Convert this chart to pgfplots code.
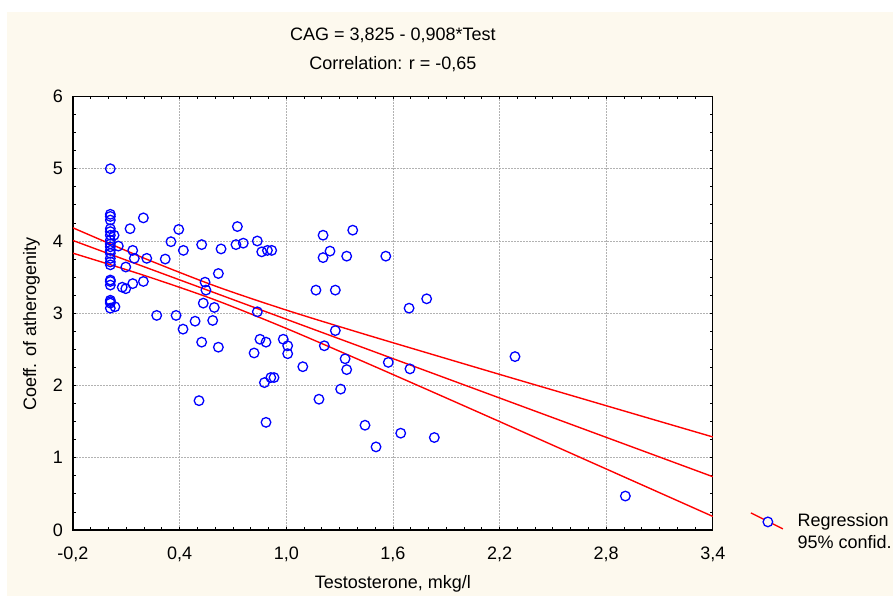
\documentclass[border=0pt]{standalone}
\usepackage{fontspec}
\setmainfont{Liberation Sans}
\usepackage{pgfplots}
\usepackage{pgfplotstable}
\pgfplotsset{compat=1.18}
\definecolor{cream}{RGB}{253,249,238}
\pgfplotstableread{
x y
0.01 5.00
0.01 4.37
0.01 4.34
0.01 4.29
0.01 4.17
0.01 4.13
0.01 4.08
0.01 4.01
0.01 3.96
0.01 3.92
0.01 3.87
0.01 3.83
0.01 3.76
0.01 3.71
0.01 3.67
0.01 3.46
0.01 3.44
0.01 3.39
0.01 3.18
0.01 3.16
0.01 3.14
0.01 3.07
0.031 4.08
0.036 3.09
0.055 3.93
0.077 3.36
0.097 3.34
0.097 3.64
0.121 4.17
0.136 3.87
0.145 3.76
0.136 3.41
0.196 4.32
0.196 3.44
0.215 3.76
0.271 2.97
0.319 3.75
0.351 3.99
0.380 2.97
0.395 4.16
0.419 2.78
0.421 3.87
0.487 2.89
0.509 1.79
0.524 3.95
0.524 2.60
0.533 3.14
0.543 3.43
0.548 3.32
0.586 2.90
0.595 3.08
0.618 3.55
0.618 2.53
0.633 3.89
0.717 3.95
0.725 4.20
0.758 3.97
0.819 2.45
0.837 4.00
0.837 3.02
0.852 2.64
0.862 3.85
0.877 2.04
0.886 2.60
0.886 1.49
0.894 3.87
0.913 2.11
0.918 3.87
0.931 2.11
0.983 2.64
1.008 2.55
1.008 2.44
1.093 2.26
1.167 3.32
1.184 1.81
1.207 4.08
1.207 3.77
1.214 2.55
1.246 3.86
1.276 3.32
1.276 2.76
1.306 1.95
1.331 2.37
1.340 3.79
1.340 2.22
1.374 4.15
1.443 1.45
1.505 1.15
1.560 3.79
1.574 2.32
1.644 1.34
1.691 3.07
1.696 2.23
1.790 3.20
1.833 1.28
2.287 2.40
2.908 0.47
}\pts
\pgfplotstableread{
x fit up lo
-0.2 4.0066 4.182 3.831
0.2 3.6434 3.762 3.524
0.6 3.2802 3.377 3.184
1.0 2.9170 3.044 2.790
1.4 2.5538 2.740 2.367
1.8 2.1906 2.446 1.936
2.2 1.8274 2.154 1.501
2.6 1.4642 1.865 1.064
3.0 1.1010 1.576 0.626
3.4 0.7378 1.288 0.188
}\band
\begin{document}
\fontsize{18}{21.6}\selectfont
\begin{tikzpicture}[x=1pt,y=1pt]
\fill[white] (0,0) rectangle (893,596);
\fill[cream] (7,0) rectangle (893,584);
\begin{axis}[name=ax,
  at={(73pt,66pt)}, anchor=south west,
  width=639.8pt, height=433.5pt, scale only axis,
  xmin=-0.2, xmax=3.4, ymin=0, ymax=6,
  xtick={-0.2,0.4,1.0,1.6,2.2,2.8,3.4},
  ytick={0,1,2,3,4,5,6},
  minor x tick num=5, minor y tick num=3,
  tick align=inside,
  major tick length=3pt, minor tick length=3pt,
  tick style={black, line width=0.8pt},
  axis line style={line width=1.2pt},
  axis background/.style={fill=white},
  grid=major,
  major grid style={gray!60, line width=0.7pt, dash pattern=on 1.5pt off 1.5pt},
  /pgf/number format/assume math mode=true,
  xticklabel style={/pgf/number format/.cd, fixed, fixed zerofill, precision=1, use comma, /tikz/.cd, anchor=base, yshift=-30pt, inner sep=0pt},
  yticklabel style={anchor=east, inner sep=0pt, xshift=-10pt},
  xlabel={Testosterone, mkg/l},
  xlabel style={at={(axis description cs:0.5,0)}, anchor=base, yshift=-58pt, inner sep=0pt},
  ylabel={Coeff. of atherogenity},
  ylabel style={at={(axis description cs:0,0.475)}, anchor=base, yshift=37pt, inner sep=0pt},
  title={CAG = 3,825 - 0,908*Test},
  title style={at={(axis description cs:0.5,1)}, anchor=base, yshift=50pt, inner sep=0pt},
  legend style={at={(axis description cs:1.0581,0.0415)}, anchor=north west, draw=none, fill=none, inner sep=0pt, row sep=6pt, column sep=14pt, nodes={inner sep=0pt}, cells={anchor=base west}},
]
\addlegendimage{legend image code/.code={
  \draw[red, line width=1.4pt] (0pt,14pt) -- (32pt,-2pt);
  \draw[blue, fill=cream, line width=1.3pt] (17pt,5pt) circle (4.8pt);}}
\addlegendentry{Regression}
\addlegendimage{empty legend}
\addlegendentry{95\% confid.}
\addplot[red, line width=1.4pt, forget plot] table[x=x, y=fit] {\band};
\addplot[red, line width=1.4pt, smooth, forget plot] table[x=x, y=up] {\band};
\addplot[red, line width=1.4pt, smooth, forget plot] table[x=x, y=lo] {\band};
\addplot[only marks, mark=o, mark size=4.8pt, mark options={blue, line width=1.3pt}, forget plot] table[x=x, y=y] {\pts};
\end{axis}
\node[anchor=base, inner sep=0pt] at ([yshift=27pt]ax.north) {Correlation: r = -0,65};
\end{tikzpicture}
\end{document}
